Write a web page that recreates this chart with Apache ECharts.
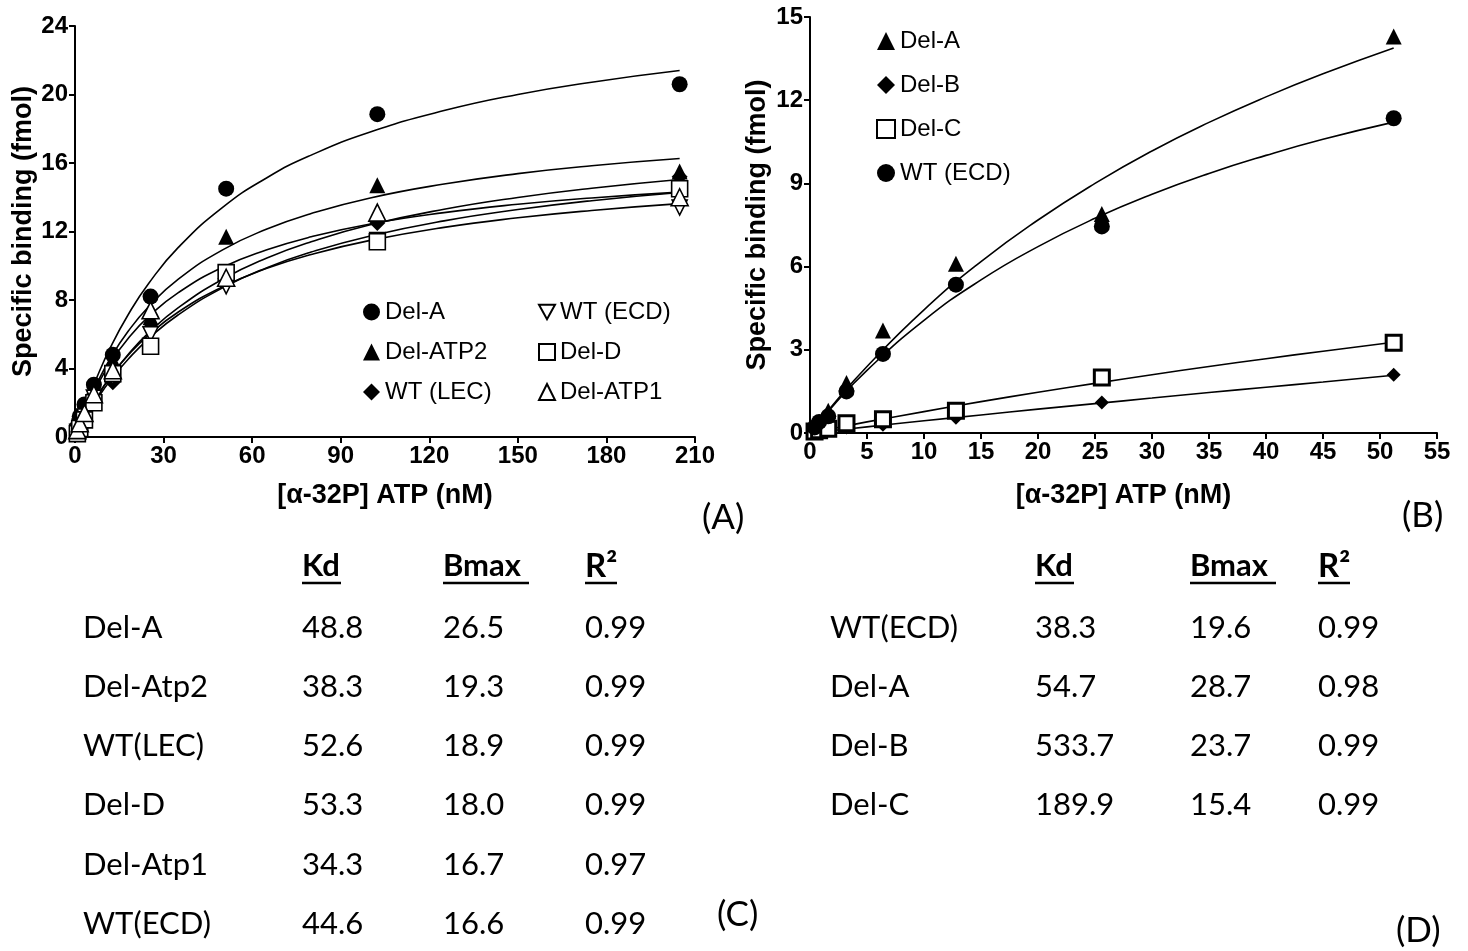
<!DOCTYPE html>
<html>
<head>
<meta charset="utf-8">
<script src="https://cdn.jsdelivr.net/npm/echarts@6/dist/echarts.min.js"></script>
<style>
  html, body { margin: 0; padding: 0; background: #fff; }
  #main { width: 1468px; height: 951px; }
</style>
</head>
<body>
<div id="main"></div>
<script>
// ---- panel A: measured points ----
var concA = [0.8, 1.6, 3.2, 6.4, 12.8, 25.6, 51.2, 102.4, 204.8];
var delA_A   = [0.6, 1.2, 1.9, 3.05, 4.8, 8.2, 14.5, 18.85, 20.6];
var delATP2  = [0.5, 0.9, 1.7, 2.8, 4.5, 7.0, 11.7, 14.7, 15.5];
var wtLEC    = [0.3, 0.7, 1.3, 2.5, 3.2, 6.4, 9.4, 12.5, 15.2];
var wtECD_A  = [0.3, 0.6, 1.2, 2.3, 3.5, 6.0, 8.8, 11.5, 13.4];
var delD     = [0.2, 0.5, 1.0, 2.0, 3.7, 5.3, 9.6, 11.4, 14.5];
var delATP1  = [0.4, 0.8, 1.4, 2.5, 3.9, 7.4, 9.3, 13.1, 14.0];

// ---- panel A: fitted curves ----
var fitXA = [0, 2, 4, 7, 12, 18, 25, 35, 50, 65, 80, 100, 125, 150, 175, 204.8];
var fitDelA_A  = [0, 1.04, 2.01, 3.32, 5.23, 7.14, 8.98, 11.07, 13.41, 15.14, 16.46, 17.81, 19.06, 20.0, 20.72, 21.4];
var fitDelATP2 = [0, 0.96, 1.83, 2.98, 4.6, 6.17, 7.62, 9.22, 10.93, 12.14, 13.05, 13.96, 14.77, 15.38, 15.84, 16.26];
var fitWtLEC   = [0, 0.69, 1.34, 2.22, 3.51, 4.82, 6.09, 7.55, 9.21, 10.45, 11.4, 12.39, 13.3, 13.99, 14.53, 15.04];
var fitWtECD_A = [0, 0.71, 1.37, 2.25, 3.52, 4.77, 5.96, 7.3, 8.77, 9.85, 10.66, 11.48, 12.24, 12.8, 13.23, 13.63];
var fitDelD    = [0, 0.65, 1.26, 2.09, 3.31, 4.54, 5.75, 7.14, 8.71, 9.89, 10.8, 11.74, 12.62, 13.28, 13.8, 14.28];
var fitDelATP1 = [0, 0.92, 1.74, 2.83, 4.33, 5.75, 7.04, 8.43, 9.91, 10.93, 11.69, 12.44, 13.1, 13.59, 13.96, 14.3];

// ---- panel B: measured points ----
var concB = [0.4, 0.8, 1.6, 3.2, 6.4, 12.8, 25.6, 51.2];
var delA_B  = [0.2, 0.4, 0.8, 1.8, 3.7, 6.1, 7.9, 14.3];
var delB    = [0.02, 0.05, 0.1, 0.2, 0.3, 0.55, 1.1, 2.1];
var delC    = [0.05, 0.1, 0.15, 0.35, 0.5, 0.8, 2.0, 3.25];
var wtECD_B = [0.2, 0.4, 0.6, 1.5, 2.85, 5.35, 7.45, 11.35];

// ---- panel B: fitted curves ----
var fitXB = [0, 2, 5, 10, 15, 20, 25, 30, 35, 40, 45, 51.2];
var fitDelA_B  = [0, 1.01, 2.4, 4.44, 6.18, 7.68, 9.0, 10.17, 11.2, 12.12, 12.95, 13.88];
var fitWtECD_B = [0, 0.97, 2.26, 4.06, 5.52, 6.72, 7.74, 8.61, 9.36, 10.01, 10.59, 11.21];
var fitDelB    = [0, 0.09, 0.22, 0.44, 0.65, 0.86, 1.06, 1.26, 1.46, 1.65, 1.84, 2.08];
var fitDelC    = [0, 0.16, 0.4, 0.77, 1.13, 1.47, 1.79, 2.1, 2.4, 2.68, 2.95, 3.27];

// ---- tables ----
var tableCNames = ['Del-A', 'Del-Atp2', 'WT(LEC)', 'Del-D', 'Del-Atp1', 'WT(ECD)'];
var tableCKd    = ['48.8', '38.3', '52.6', '53.3', '34.3', '44.6'];
var tableCBmax  = ['26.5', '19.3', '18.9', '18.0', '16.7', '16.6'];
var tableCR2    = ['0.99', '0.99', '0.99', '0.99', '0.97', '0.99'];
var tableDNames = ['WT(ECD)', 'Del-A', 'Del-B', 'Del-C'];
var tableDKd    = ['38.3', '54.7', '533.7', '189.9'];
var tableDBmax  = ['19.6', '28.7', '23.7', '15.4'];
var tableDR2    = ['0.99', '0.98', '0.99', '0.99'];

var chart = echarts.init(document.getElementById('main'), null, { renderer: 'canvas' });

var tickFont = 'Liberation Sans Narrow, Liberation Sans, Arial, sans-serif';
var downTri = 'path://M0,0 L10,0 L5,9 Z';

function pairs(xs, ys) {
    return xs.map(function (x, i) { return [x, ys[i]]; });
}

function pointSeries(name, xi, xs, ys, symbol, open, size) {
    return {
        name: name, type: 'scatter', xAxisIndex: xi, yAxisIndex: xi,
        data: pairs(xs, ys), symbol: symbol, symbolSize: size || 15,
        itemStyle: open ? { color: '#fff', borderColor: '#000', borderWidth: 1.6, opacity: 1 }
                        : { color: '#000', opacity: 1 },
        z: 3
    };
}

function fitSeries(name, xi, xs, ys) {
    return {
        name: name, type: 'line', xAxisIndex: xi, yAxisIndex: xi,
        data: pairs(xs, ys), smooth: true, showSymbol: false, symbol: 'none',
        lineStyle: { color: '#000', width: 1.6 }, z: 2, silent: true
    };
}

function axisCommon(extra) {
    var a = {
        type: 'value',
        splitLine: { show: false },
        axisLine: { onZero: false, lineStyle: { color: '#000', width: 2 } },
        axisTick: { show: true, length: 6, lineStyle: { color: '#000', width: 2 } },
        axisLabel: { color: '#000', fontSize: 24, fontWeight: 'bold', fontFamily: tickFont, margin: 7 },
        nameLocation: 'middle',
        nameTextStyle: { color: '#000', fontSize: 27, fontWeight: 'bold', fontFamily: 'Liberation Sans, Arial, sans-serif' }
    };
    for (var k in extra) a[k] = extra[k];
    return a;
}

var textFont = 'Lato, Open Sans, sans-serif';
var graphics = [];
function addText(x, y, s, bold, size) {
    graphics.push({
        type: 'text', left: x, top: y,
        style: { text: s, fill: '#000', font: (bold ? 'bold ' : '') + (size || 31) + 'px ' + textFont }
    });
}
function addUnderline(x1, x2, y) {
    graphics.push({ type: 'line', shape: { x1: x1, y1: y, x2: x2, y2: y }, style: { stroke: '#000', lineWidth: 2.5 } });
}

// table C
var rowY = [612, 671, 730, 789, 849, 908];
addText(302, 550, 'Kd', true); addUnderline(302, 341, 583);
addText(443, 550, 'Bmax', true); addUnderline(443, 529, 583);
addText(585, 550, 'R²', true, 33); addUnderline(585, 617, 583);
tableCNames.forEach(function (n, i) {
    addText(83, rowY[i], n);
    addText(302, rowY[i], tableCKd[i]);
    addText(443, rowY[i], tableCBmax[i]);
    addText(585, rowY[i], tableCR2[i]);
});
// table D
addText(1035, 550, 'Kd', true); addUnderline(1035, 1074, 583);
addText(1190, 550, 'Bmax', true); addUnderline(1190, 1276, 583);
addText(1318, 550, 'R²', true, 33); addUnderline(1318, 1350, 583);
tableDNames.forEach(function (n, i) {
    addText(830, rowY[i], n);
    addText(1035, rowY[i], tableDKd[i]);
    addText(1190, rowY[i], tableDBmax[i]);
    addText(1318, rowY[i], tableDR2[i]);
});
// panel letters
addText(702, 500, '(A)', false, 35);
addText(1402, 498, '(B)', false, 35);
addText(717, 897, '(C)', false, 35);
addText(1396, 913, '(D)', false, 35);

var legendText = { fontSize: 24, color: '#000', fontFamily: 'Liberation Sans, Arial, sans-serif' };

var option = {
    animation: false,
    backgroundColor: '#fff',
    grid: [
        { left: 75, right: 773, top: 26, bottom: 514, containLabel: false },
        { left: 810, right: 31, top: 17, bottom: 518, containLabel: false }
    ],
    xAxis: [
        axisCommon({ gridIndex: 0, min: 0, max: 210, interval: 30, name: '[α-32P] ATP (nM)', nameGap: 45 }),
        axisCommon({ gridIndex: 1, min: 0, max: 55, interval: 5, name: '[α-32P] ATP (nM)', nameGap: 49 })
    ],
    yAxis: [
        axisCommon({ gridIndex: 0, min: 0, max: 24, interval: 4, name: 'Specific binding (fmol)', nameGap: 38 }),
        axisCommon({ gridIndex: 1, min: 0, max: 15, interval: 3, name: 'Specific binding (fmol)', nameGap: 39 })
    ],
    legend: [
        {
            left: 358, top: 295, orient: 'vertical', itemGap: 16, itemWidth: 17, itemHeight: 17,
            textStyle: legendText,
            data: [{ name: 'Del-A', icon: 'circle' }, { name: 'Del-ATP2', icon: 'triangle' }, { name: 'WT (LEC)', icon: 'diamond' }]
        },
        {
            left: 533, top: 295, orient: 'vertical', itemGap: 16, itemWidth: 16, itemHeight: 16,
            textStyle: legendText,
            data: [{ name: 'WT (ECD) ', icon: downTri }, { name: 'Del-D', icon: 'rect' }, { name: 'Del-ATP1', icon: 'triangle' }]
        },
        {
            left: 871, top: 24, orient: 'vertical', itemGap: 20, itemWidth: 18, itemHeight: 18,
            textStyle: legendText,
            data: [{ name: 'Del-A ', icon: 'triangle' }, { name: 'Del-B', icon: 'diamond' },
                   { name: 'Del-C', icon: 'rect' }, { name: 'WT (ECD)', icon: 'circle' }]
        }
    ],
    series: [
        // panel A points (first, so the legend uses their markers)
        pointSeries('Del-A', 0, concA, delA_A, 'circle', false, 16),
        pointSeries('Del-ATP2', 0, concA, delATP2, 'triangle', false, 16),
        pointSeries('WT (LEC)', 0, concA, wtLEC, 'diamond', false, 16),
        pointSeries('WT (ECD) ', 0, concA, wtECD_A, downTri, true, 15),
        pointSeries('Del-D', 0, concA, delD, 'rect', true, 16),
        pointSeries('Del-ATP1', 0, concA, delATP1, 'triangle', true, 17),
        // panel A fits
        fitSeries('Del-A', 0, fitXA, fitDelA_A),
        fitSeries('Del-ATP2', 0, fitXA, fitDelATP2),
        fitSeries('WT (LEC)', 0, fitXA, fitWtLEC),
        fitSeries('WT (ECD) ', 0, fitXA, fitWtECD_A),
        fitSeries('Del-D', 0, fitXA, fitDelD),
        fitSeries('Del-ATP1', 0, fitXA, fitDelATP1),
        // panel B points
        pointSeries('Del-A ', 1, concB, delA_B, 'triangle', false, 16),
        pointSeries('Del-B', 1, concB, delB, 'diamond', false, 14),
        {
            name: 'Del-C', type: 'scatter', xAxisIndex: 1, yAxisIndex: 1,
            data: pairs(concB, delC), symbol: 'rect', symbolSize: 15,
            itemStyle: { color: '#fff', borderColor: '#000', borderWidth: 3, opacity: 1 }, z: 3
        },
        pointSeries('WT (ECD)', 1, concB, wtECD_B, 'circle', false, 16),
        // panel B fits
        fitSeries('Del-A ', 1, fitXB, fitDelA_B),
        fitSeries('Del-B', 1, fitXB, fitDelB),
        fitSeries('Del-C', 1, fitXB, fitDelC),
        fitSeries('WT (ECD)', 1, fitXB, fitWtECD_B)
    ],
    graphic: graphics
};

chart.setOption(option);
</script>
</body>
</html>
